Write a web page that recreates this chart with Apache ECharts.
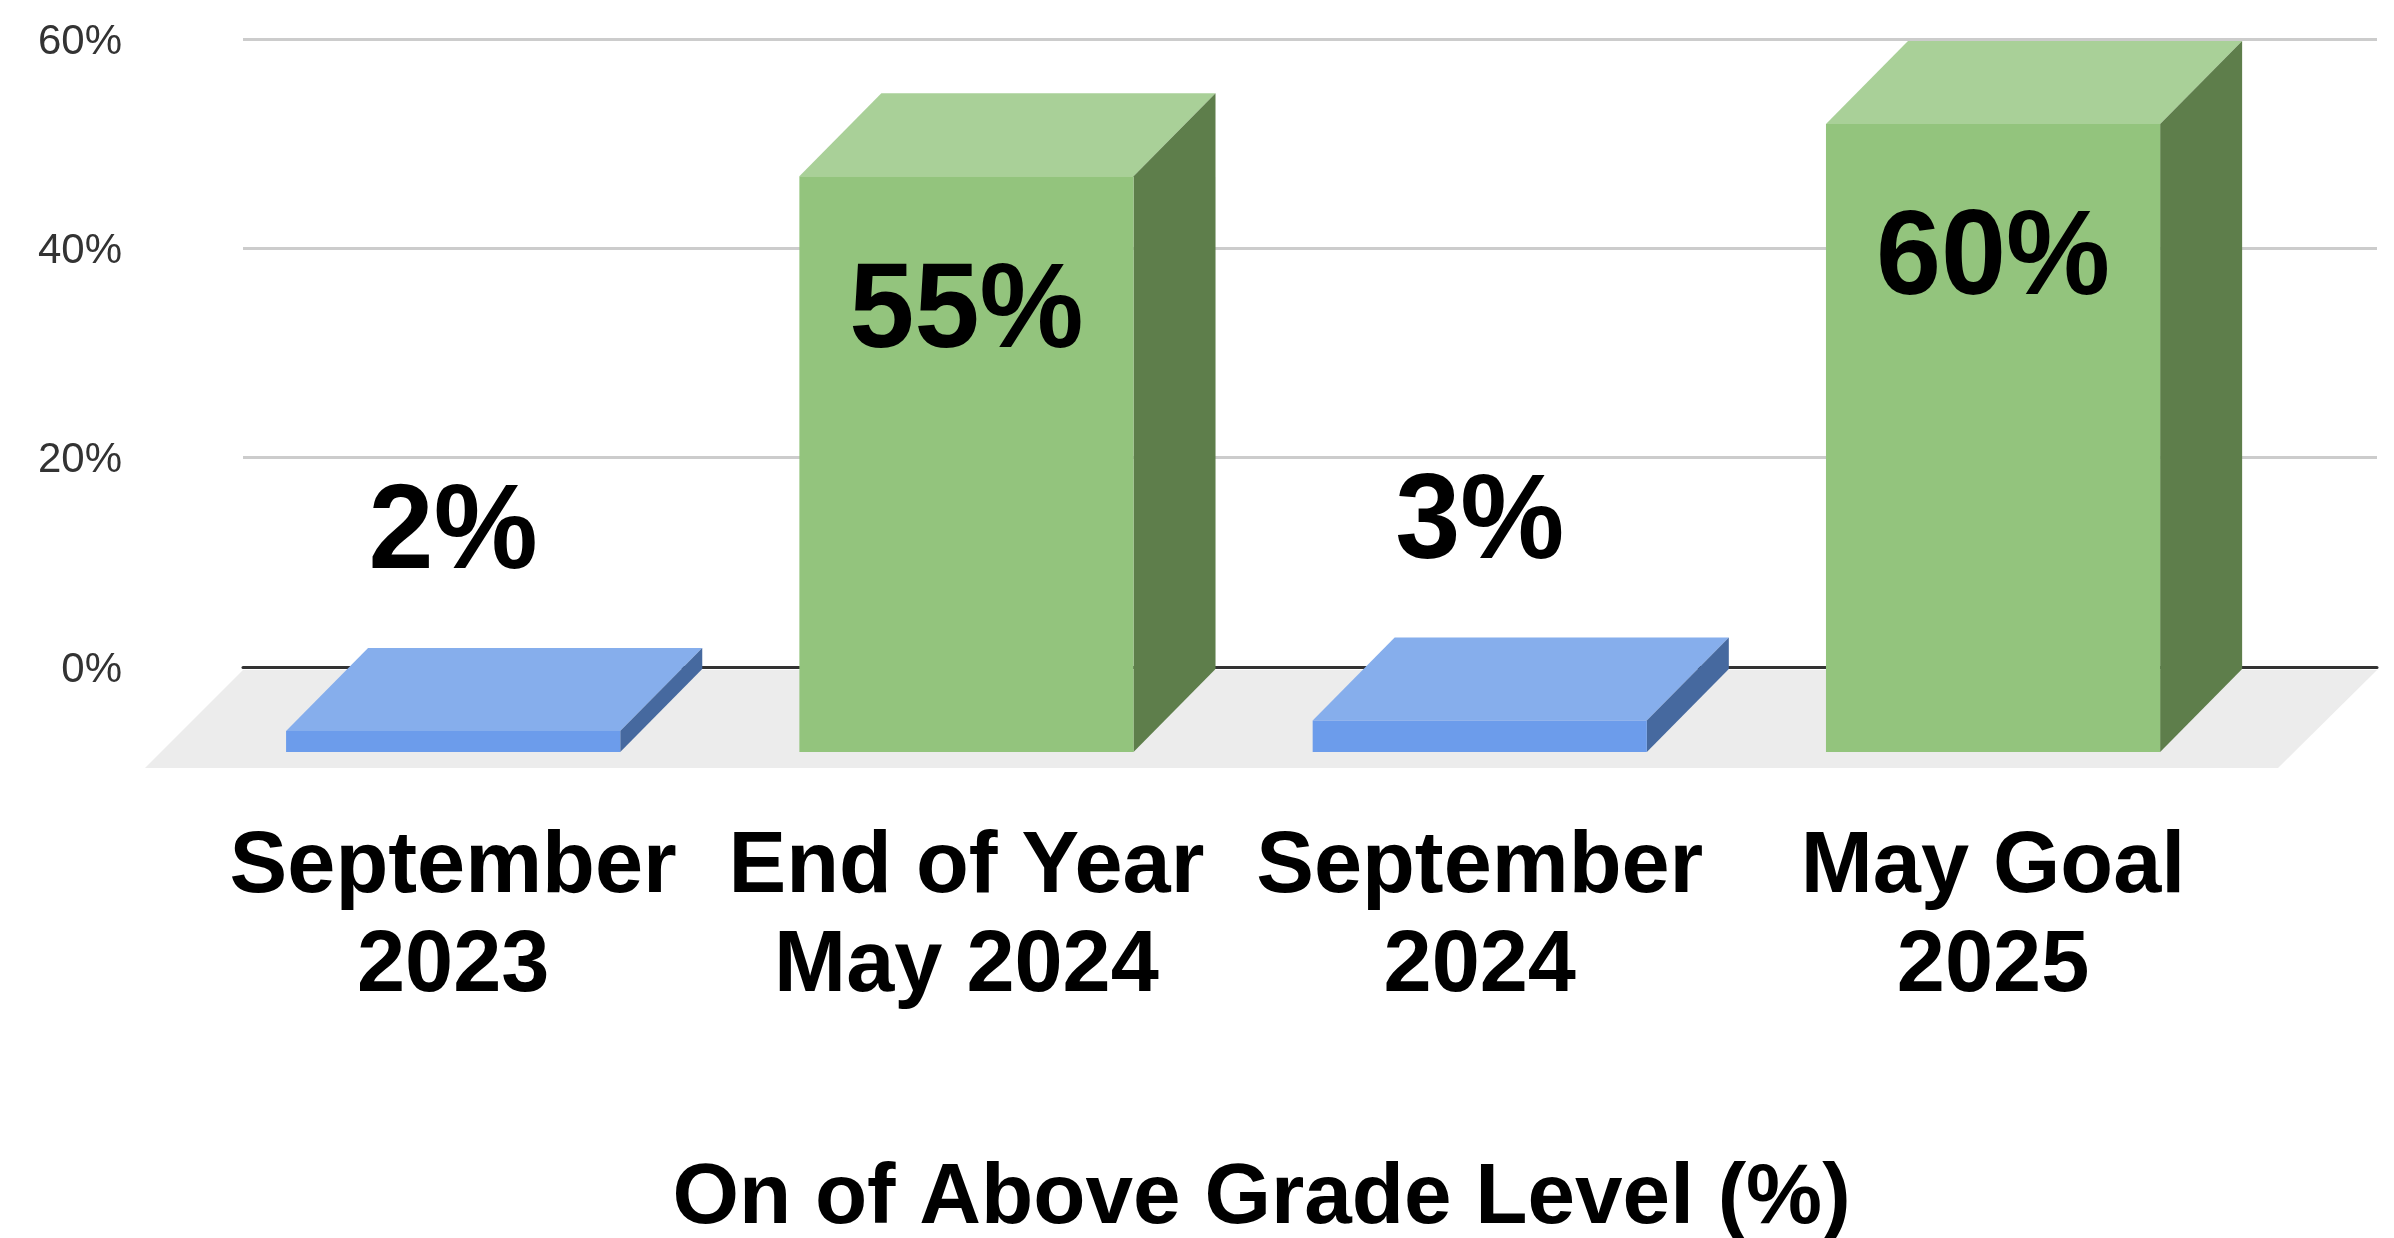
<!DOCTYPE html>
<html>
<head>
<meta charset="utf-8">
<style>html,body{margin:0;padding:0;background:#fff}#c{width:2394px;height:1238px}</style>
<script src="https://cdn.jsdelivr.net/npm/echarts@6/dist/echarts.min.js"></script>
</head>
<body>
<div id="c"></div>
<script>
var categories = ['September\n2023', 'End of Year\nMay 2024', 'September\n2024', 'May Goal\n2025'];
var values = [2, 55, 3, 60];
var valueLabels = ['2%', '55%', '3%', '60%'];
var faceColors = [
  ['#6c9ceb', '#86aeec', '#46699f'],
  ['#93c47d', '#a9d098', '#5e7e4b'],
  ['#6c9ceb', '#86aeec', '#46699f'],
  ['#93c47d', '#a9d098', '#5e7e4b']
];
var FONT = '"Liberation Sans", Arial, sans-serif';
var DX = 82, DY = 83;

var chart = echarts.init(document.getElementById('c'), null, {renderer: 'canvas'});

function renderBar(params, api) {
  var i = params.dataIndex;
  var top = api.coord([api.value(0), api.value(1)]);
  var base = api.coord([api.value(0), 0]);
  var w = api.size([1, 0])[0] * 0.651;
  var l = top[0] - w / 2, r = top[0] + w / 2;
  var c = faceColors[i];
  var labelY = api.value(1) > 10 ? top[1] + 137 : top[1] - 196;
  return {
    type: 'group',
    children: [
      {type: 'polygon', shape: {points: [[l, top[1]], [r, top[1]], [r + DX, top[1] - DY], [l + DX, top[1] - DY]]}, style: {fill: c[1]}},
      {type: 'polygon', shape: {points: [[r, top[1]], [r + DX, top[1] - DY], [r + DX, base[1] - DY], [r, base[1]]]}, style: {fill: c[2]}},
      {type: 'rect', shape: {x: l, y: top[1], width: w, height: base[1] - top[1]}, style: {fill: c[0]}},
      {type: 'text', scaleY: 1.03, originX: top[0], originY: labelY,
       style: {text: valueLabels[i], x: top[0], y: labelY, align: 'center', verticalAlign: 'middle', font: 'bold 117px ' + FONT, fill: '#000'}}
    ]
  };
}

function renderFloor(params, api) {
  var a = api.coord([0, 0]);
  var b = api.coord([1, 0]);
  return {
    type: 'polygon',
    shape: {points: [[a[0], a[1] + 3], [b[0], b[1] + 3], [b[0] - 99, b[1] + 101], [a[0] - 98, a[1] + 101]]},
    style: {fill: '#ececec'}
  };
}

chart.setOption({
  animation: false,
  backgroundColor: '#ffffff',
  title: {
    text: 'On of Above Grade Level (%)',
    left: 1256.5, top: 1147, textAlign: 'center',
    textStyle: {fontFamily: FONT, fontSize: 85.5, fontWeight: 'bold', color: '#000', lineHeight: 94}
  },
  grid: [
    {left: 243, top: 39, width: 2134, height: 628},
    {left: 196.5, top: 124, width: 2053.2, height: 628},
    {left: 243, top: 42, width: 2134, height: 628}
  ],
  xAxis: [
    {gridIndex: 0, type: 'value', min: 0, max: 1, axisLabel: {show: false}, axisTick: {show: false}, splitLine: {show: false},
     axisLine: {show: true, onZero: false, lineStyle: {color: '#333', width: 3}}},
    {gridIndex: 1, type: 'category', data: categories, axisLine: {show: false}, axisTick: {show: false}, splitLine: {show: false},
     axisLabel: {margin: 67, fontFamily: FONT, fontSize: 86.5, fontWeight: 'bold', color: '#000', lineHeight: 99, interval: 0}},
    {gridIndex: 2, type: 'value', min: 0, max: 1, show: false}
  ],
  yAxis: [
    {gridIndex: 0, type: 'value', min: 0, max: 60, interval: 20, axisLine: {show: false}, axisTick: {show: false}, axisLabel: {show: false},
     splitLine: {lineStyle: {color: '#cccccc', width: 3}}},
    {gridIndex: 1, type: 'value', min: 0, max: 60, interval: 20, show: false},
    {gridIndex: 2, type: 'value', min: 0, max: 60, interval: 20, axisLine: {show: false}, axisTick: {show: false}, splitLine: {show: false},
     axisLabel: {margin: 121, formatter: '{value}%', fontFamily: FONT, fontSize: 42, color: '#333'}}
  ],
  series: [
    {type: 'custom', xAxisIndex: 0, yAxisIndex: 0, z: 1, silent: true, data: [[0, 0]], renderItem: renderFloor},
    {type: 'custom', name: 'On of Above Grade Level (%)', xAxisIndex: 1, yAxisIndex: 1, z: 3, silent: true,
     data: values.map(function (v, i) { return [i, v]; }),
     encode: {x: 0, y: 1}, renderItem: renderBar}
  ]
});
</script>
</body>
</html>
